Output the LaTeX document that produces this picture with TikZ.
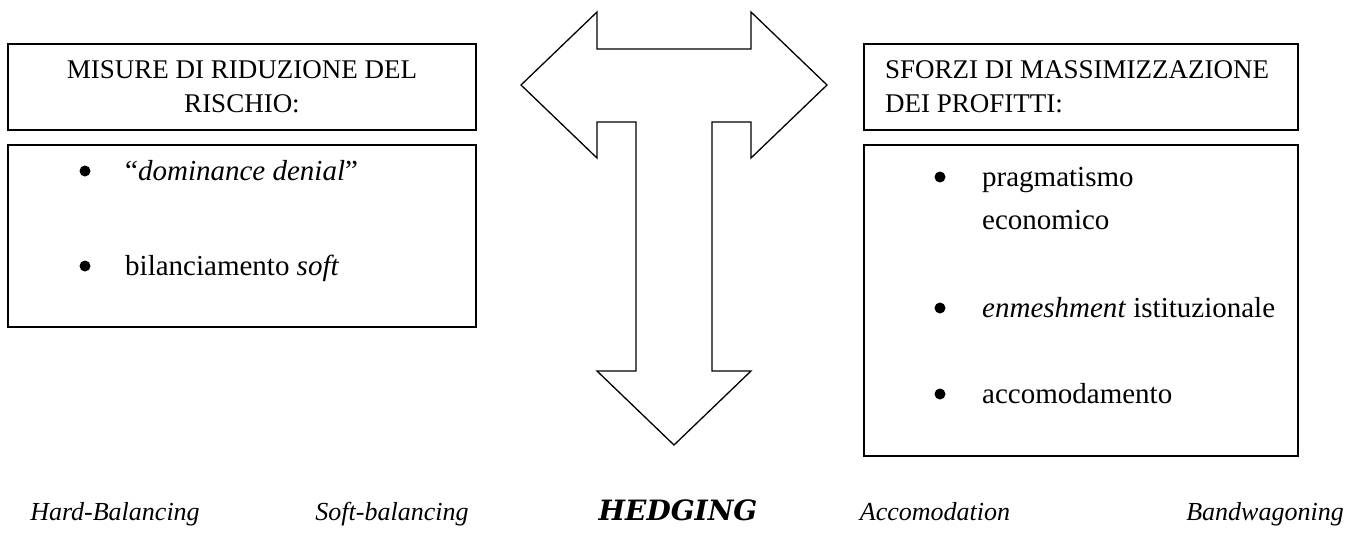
\documentclass[tikz,border=0pt]{standalone}
\usepackage{fontspec}
\setmainfont{Liberation Serif}
\newfontfamily\hedgefont{DejaVu Serif}
\tikzset{
  frame/.style={draw=black, line width=1.6pt, inner sep=0pt, rectangle},
  lbl/.style={inner sep=0pt, anchor=base},
  lblw/.style={inner sep=0pt, anchor=base west},
  hdr/.style={font=\fontsize{27}{30}\selectfont},
  bodytxt/.style={font=\fontsize{29}{34}\selectfont},
  bot/.style={font=\fontsize{26}{30}\selectfont\itshape},
  bul/.style={circle, fill=black, inner sep=0pt, minimum size=11pt},
  bigarrow/.style={draw=black, line width=1.3pt, line join=miter, fill=white}
}
\begin{document}
\begin{tikzpicture}[x=1pt,y=-1pt]
\useasboundingbox (0,0) rectangle (1359,546);
% boxes
\node[frame, minimum width=468pt, minimum height=86pt] (lhead) at (242,87) {};
\node[frame, minimum width=468pt, minimum height=182pt] (lbody) at (242,236) {};
\node[frame, minimum width=434pt, minimum height=86pt] (rhead) at (1081,87) {};
\node[frame, minimum width=434pt, minimum height=311pt] (rbody) at (1081,300.5) {};
% left header text
\node[lbl, hdr] (lh1) at (242,78) {MISURE DI RIDUZIONE DEL};
\node[lbl, hdr] (lh2) at (242,112) {RISCHIO:};
% right header text
\node[lblw, hdr] (rh1) at (885,78) {SFORZI DI MASSIMIZZAZIONE};
\node[lblw, hdr] (rh2) at (885,112) {DEI PROFITTI:};
% left body
\node[bul] (lb1) at (85,171) {};
\node[lblw, bodytxt] (lt1) at (125,180) {“\textit{dominance denial}”};
\node[bul] (lb2) at (85,266) {};
\node[lblw, bodytxt] (lt2) at (125,275) {bilanciamento \textit{soft}};
% right body
\node[bul] (rb1) at (940,177) {};
\node[lblw, bodytxt] (rt1) at (982,186) {pragmatismo};
\node[lblw, bodytxt] (rt1b) at (982,229) {economico};
\node[bul] (rb2) at (940,308) {};
\node[lblw, bodytxt] (rt2) at (982,317) {\textit{enmeshment} istituzionale};
\node[bul] (rb3) at (940,394) {};
\node[lblw, bodytxt] (rt3) at (982,403) {accomodamento};
% T-shaped arrow
\draw[bigarrow] (521,85) -- (597,12) -- (597,49) -- (751,49) -- (751,12) -- (827,85)
  -- (751,158) -- (751,122) -- (712,122) -- (712,371) -- (751,371) -- (674,445)
  -- (597,371) -- (636,371) -- (636,122) -- (597,122) -- (597,158) -- cycle;
% bottom scale labels
\node[lbl, bot] (hb) at (115,520) {Hard-Balancing};
\node[lbl, bot] (sb) at (392,520) {Soft-balancing};
\node[lbl, font=\fontsize{28}{30}\selectfont\hedgefont\bfseries\itshape] (hd) at (678,520) {HEDGING};
\node[lbl, bot] (ac) at (935,520) {Accomodation};
\node[lbl, bot] (bw) at (1265,520) {Bandwagoning};
\end{tikzpicture}
\end{document}
